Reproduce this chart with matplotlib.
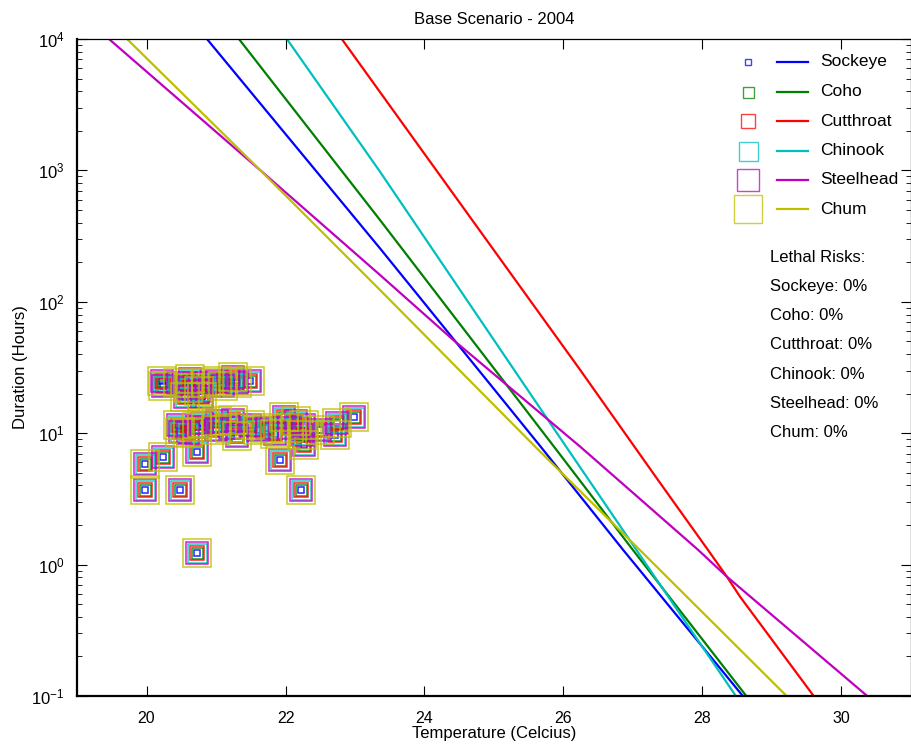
import numpy as np
import matplotlib
matplotlib.use("Agg")
import matplotlib.pyplot as plt

plt.rcParams["font.family"] = ["Liberation Sans", "DejaVu Sans"]
plt.rcParams["mathtext.fontset"] = "custom"
plt.rcParams["mathtext.rm"] = "Liberation Sans"

SPECIES = ["Sockeye", "Coho", "Cutthroat", "Chinook", "Steelhead", "Chum"]
COLORS = ["#0000ff", "#008000", "#ff0000", "#00bfbf", "#bf00bf", "#bfbf00"]
MARKER_PX = [6, 11, 14, 19, 22, 28]
RISKS = [0, 0, 0, 0, 0, 0]

# Kurven: Temperatur (C) -> Dauer (Stunden)
sockeye_t = [20.87, 23.36, 25.71, 26.86, 28.58]
sockeye_h = [10000, 255, 7.45, 1.29, 0.1]
coho_t = [21.33, 23.36, 25.90, 27.00, 28.63]
coho_h = [10000, 419, 7.45, 1.29, 0.1]
cutthroat_t = [22.81, 23.96, 26.24, 27.36, 28.08, 28.35, 28.54, 29.60]
cutthroat_h = [10000, 1429, 30.3, 4.4, 1.29, 0.81, 0.57, 0.1]
chinook_t = [22.02, 23.36, 26.07, 28.48]
chinook_h = [10000, 977, 7.45, 0.1]
steelhead_t = [19.46, 21.64, 23.36, 24.40, 26.24, 26.79, 27.94, 28.35, 30.37]
steelhead_h = [10000, 1000, 160, 52, 7.9, 4.4, 1.29, 0.81, 0.1]
chum_t = [19.72, 21.64, 23.36, 25.64, 27.10, 29.21]
chum_h = [10000, 1000, 123, 7.45, 1.29, 0.1]

CURVES_T = [sockeye_t, coho_t, cutthroat_t, chinook_t, steelhead_t, chum_t]
CURVES_H = [sockeye_h, coho_h, cutthroat_h, chinook_h, steelhead_h, chum_h]

# Beobachtete Ereignisse (Temperatur, Dauer)
obs_temp = [
    20.22, 20.24, 20.45, 20.60, 20.62, 20.75, 20.85, 21.01, 21.10, 21.25, 21.30, 21.49, 20.55, 20.80,
    20.48, 20.45, 20.60, 20.73, 20.80, 21.00, 21.01, 21.20, 21.25, 21.30, 21.49, 21.60, 21.73,
    21.85, 21.98, 22.05, 22.24, 22.26, 22.26, 22.15, 22.50, 22.71, 22.74, 22.99,
    19.98, 20.24, 19.98, 20.48, 22.23, 20.73, 20.73, 21.92,
]
obs_hours = [
    25, 23, 24, 22, 26, 21, 24, 25, 23, 27, 24, 25, 19, 19,
    10.3, 11.5, 10.0, 11.2, 12.0, 10.5, 12.3, 11.0, 12.5, 9.5, 11.5, 10.5, 10.9,
    9.8, 13.2, 11.0, 9.7, 11.5, 8.1, 12.3, 10.5, 9.7, 11.9, 13.2,
    5.8, 6.6, 3.7, 3.7, 3.7, 1.22, 7.2, 6.3,
]

fig = plt.figure(figsize=(9.12, 7.46), dpi=100)
ax = fig.add_axes([77 / 912, 50 / 746, 834 / 912, 657 / 746])

px2pt = 72 / 100
for i, name in enumerate(SPECIES):
    ax.plot(obs_temp, obs_hours, linestyle="none", marker="s",
            markersize=MARKER_PX[i] * px2pt, markerfacecolor="none",
            markeredgecolor=COLORS[i], markeredgewidth=1.1, alpha=0.85)

for i, name in enumerate(SPECIES):
    ax.plot(CURVES_T[i], CURVES_H[i], color=COLORS[i], linewidth=1.6)

ax.set_yscale("log")
ax.set_xlim(19, 31)
ax.set_ylim(0.1, 10000)
ax.set_xticks([20, 22, 24, 26, 28, 30])
ax.set_yticks([0.1, 1, 10, 100, 1000, 10000])
ax.set_yticklabels([r"$\mathregular{10^{%d}}$" % e for e in range(-1, 5)])
ax.tick_params(which="both", direction="in", top=True, right=True, labelsize=12)
ax.tick_params(axis="x", labelsize=11.5)
ax.tick_params(which="major", length=7)
ax.tick_params(axis="x", which="major", pad=11)
ax.tick_params(axis="y", which="major", pad=9)
ax.tick_params(which="minor", length=3.5)
ax.tick_params(axis="x", which="minor", top=False, bottom=False)
for side in ["left", "bottom"]:
    ax.spines[side].set_linewidth(1.6)
for side in ["top", "right"]:
    ax.spines[side].set_linewidth(0.9)

ax.set_title("Base Scenario - 2004", fontsize=12, pad=11)
ax.set_xlabel("Temperature (Celcius)", fontsize=12, labelpad=0)
ax.set_ylabel("Duration (Hours)", fontsize=12, labelpad=2)

# Legende von Hand: Marker, Linie, Name
row_y = [0.965, 0.920, 0.875, 0.830, 0.786, 0.741]
for i, name in enumerate(SPECIES):
    ax.plot([0.8046], [row_y[i]], transform=ax.transAxes, marker="s",
            markersize=MARKER_PX[i] * px2pt, markerfacecolor="none",
            markeredgecolor=COLORS[i], markeredgewidth=1.0, alpha=0.75, clip_on=False)
    ax.plot([0.839, 0.8765], [row_y[i], row_y[i]], transform=ax.transAxes,
            color=COLORS[i], linewidth=1.6)
    ax.text(0.891, row_y[i], name, transform=ax.transAxes, fontsize=12.5,
            va="center", ha="left")

risk_y = 0.668
ax.text(0.831, risk_y, "Lethal Risks:", transform=ax.transAxes, fontsize=12,
        va="center", ha="left")
for i, name in enumerate(SPECIES):
    ax.text(0.831, risk_y - 0.0445 * (i + 1), f"{name}: {RISKS[i]}%",
            transform=ax.transAxes, fontsize=12, va="center", ha="left")

fig.savefig("out.png", dpi=100)
